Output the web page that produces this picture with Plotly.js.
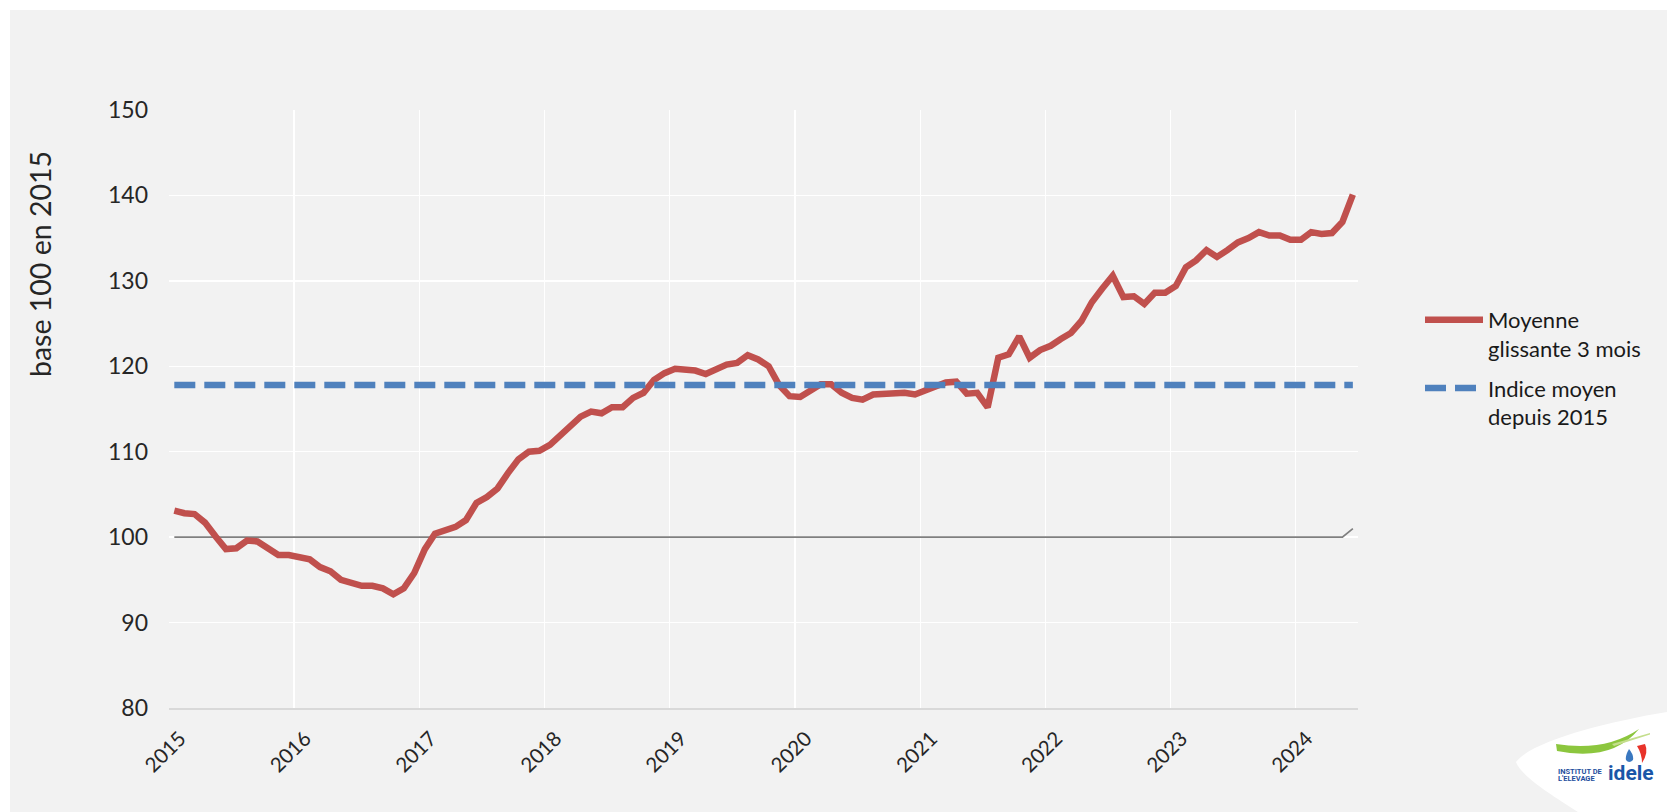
<!DOCTYPE html>
<html>
<head>
<meta charset="utf-8">
<script src="https://cdn.plot.ly/plotly-3.0.1.min.js"></script>
<style>
  html, body { margin: 0; padding: 0; background: #ffffff; }
  #chart { width: 1667px; height: 812px; }
</style>
</head>
<body>
<div id="chart"></div>
<script>
// ---- DATA ----
const months = [
  "2015-01","2015-02","2015-03","2015-04","2015-05","2015-06","2015-07","2015-08","2015-09","2015-10","2015-11","2015-12",
  "2016-01","2016-02","2016-03","2016-04","2016-05","2016-06","2016-07","2016-08","2016-09","2016-10","2016-11","2016-12",
  "2017-01","2017-02","2017-03","2017-04","2017-05","2017-06","2017-07","2017-08","2017-09","2017-10","2017-11","2017-12",
  "2018-01","2018-02","2018-03","2018-04","2018-05","2018-06","2018-07","2018-08","2018-09","2018-10","2018-11","2018-12",
  "2019-01","2019-02","2019-03","2019-04","2019-05","2019-06","2019-07","2019-08","2019-09","2019-10","2019-11","2019-12",
  "2020-01","2020-02","2020-03","2020-04","2020-05","2020-06","2020-07","2020-08","2020-09","2020-10","2020-11","2020-12",
  "2021-01","2021-02","2021-03","2021-04","2021-05","2021-06","2021-07","2021-08","2021-09","2021-10","2021-11","2021-12",
  "2022-01","2022-02","2022-03","2022-04","2022-05","2022-06","2022-07","2022-08","2022-09","2022-10","2022-11","2022-12",
  "2023-01","2023-02","2023-03","2023-04","2023-05","2023-06","2023-07","2023-08","2023-09","2023-10","2023-11","2023-12",
  "2024-01","2024-02","2024-03","2024-04","2024-05","2024-06"
];

const moyenneGlissante3Mois = [
  103.1, 102.8, 102.7, 101.7, 100.1, 98.6, 98.7, 99.6, 99.5, 98.8, 97.9, 97.9,
  97.7, 97.4, 96.5, 96.0, 95.0, 94.7, 94.3, 94.3, 94.0, 93.3, 94.0, 95.8,
  98.6, 100.4, 100.7, 101.2, 102.0, 104.0, 104.7, 105.7, 107.5, 109.1, 110.0, 110.1,
  110.8, 111.9, 113.0, 114.1, 114.7, 114.5, 115.2, 115.2, 116.3, 116.9, 118.4, 119.2,
  119.7, 119.6, 119.5, 119.1, 119.7, 120.2, 120.4, 121.3, 120.8, 120.0, 117.8, 116.5,
  116.4, 117.1, 117.9, 117.9, 116.9, 116.3, 116.1, 116.7, 116.8, 116.8, 116.9, 116.7,
  117.2, 117.6, 118.1, 118.2, 116.8, 116.9, 115.2, 121.0, 121.4, 123.5, 121.0, 121.9,
  122.4, 123.2, 123.9, 125.3, 127.5, 129.1, 130.6, 128.1, 128.2, 127.3, 128.6, 128.6,
  129.4, 131.6, 132.4, 133.6, 132.8, 133.6, 134.5, 135.0, 135.7, 135.3, 135.3, 134.8,
  134.8, 135.7, 135.5, 135.6, 136.9, 140.1
];

const indiceMoyenDepuis2015 = [
  117.8, 117.8, 117.8, 117.8, 117.8, 117.8, 117.8, 117.8, 117.8, 117.8, 117.8, 117.8,
  117.8, 117.8, 117.8, 117.8, 117.8, 117.8, 117.8, 117.8, 117.8, 117.8, 117.8, 117.8,
  117.8, 117.8, 117.8, 117.8, 117.8, 117.8, 117.8, 117.8, 117.8, 117.8, 117.8, 117.8,
  117.8, 117.8, 117.8, 117.8, 117.8, 117.8, 117.8, 117.8, 117.8, 117.8, 117.8, 117.8,
  117.8, 117.8, 117.8, 117.8, 117.8, 117.8, 117.8, 117.8, 117.8, 117.8, 117.8, 117.8,
  117.8, 117.8, 117.8, 117.8, 117.8, 117.8, 117.8, 117.8, 117.8, 117.8, 117.8, 117.8,
  117.8, 117.8, 117.8, 117.8, 117.8, 117.8, 117.8, 117.8, 117.8, 117.8, 117.8, 117.8,
  117.8, 117.8, 117.8, 117.8, 117.8, 117.8, 117.8, 117.8, 117.8, 117.8, 117.8, 117.8,
  117.8, 117.8, 117.8, 117.8, 117.8, 117.8, 117.8, 117.8, 117.8, 117.8, 117.8, 117.8,
  117.8, 117.8, 117.8, 117.8, 117.8, 117.8
];

const base100 = [
  100, 100, 100, 100, 100, 100, 100, 100, 100, 100, 100, 100,
  100, 100, 100, 100, 100, 100, 100, 100, 100, 100, 100, 100,
  100, 100, 100, 100, 100, 100, 100, 100, 100, 100, 100, 100,
  100, 100, 100, 100, 100, 100, 100, 100, 100, 100, 100, 100,
  100, 100, 100, 100, 100, 100, 100, 100, 100, 100, 100, 100,
  100, 100, 100, 100, 100, 100, 100, 100, 100, 100, 100, 100,
  100, 100, 100, 100, 100, 100, 100, 100, 100, 100, 100, 100,
  100, 100, 100, 100, 100, 100, 100, 100, 100, 100, 100, 100,
  100, 100, 100, 100, 100, 100, 100, 100, 100, 100, 100, 100,
  100, 100, 100, 100, 100, 101
];

const yearTickVals = ["2015-01-01","2016-01-01","2017-01-01","2018-01-01","2019-01-01","2020-01-01","2021-01-01","2022-01-01","2023-01-01","2024-01-01"];
const yearTickText = ["2015","2016","2017","2018","2019","2020","2021","2022","2023","2024"];

const seriesNames = ["Moyenne<br>glissante 3 mois", "Indice moyen<br>depuis 2015"];
const yAxisTitle = "base 100 en 2015";

// ---- LAYOUT GEOMETRY (pixels) ----
const W = 1667, H = 812;
const M = { l: 169, r: 309, t: 110, b: 104 };
const PW = W - M.l - M.r, PH = H - M.t - M.b;
const px = x => (x - M.l) / PW;          // pixel x -> paper
const py = y => (H - M.b - y) / PH;      // pixel y -> paper
const FONT = "Lato, 'Open Sans', sans-serif";

const common = { xperiod: "M1", xperiodalignment: "middle", mode: "lines", hoverinfo: "skip" };

const traces = [
  Object.assign({}, common, {
    x: months, y: base100, showlegend: false, legendgroup: "g0",
    line: { color: "#7f7f7f", width: 1.75 }
  }),
  Object.assign({}, common, {
    x: months, y: moyenneGlissante3Mois, name: seriesNames[0], legendgroup: "g1",
    line: { color: "#C0504D", width: 6.5, shape: "linear" }
  }),
  Object.assign({}, common, {
    x: months, y: indiceMoyenDepuis2015, name: seriesNames[1], legendgroup: "g2",
    line: { color: "#4F81BD", width: 6.5, dash: "21px,9px" }
  })
];

// logo path helper (pixel coords -> paper)
function pathPx(cmds) {
  return cmds.map(c => {
    if (typeof c === "string") return c;
    return px(c[0]).toFixed(5) + "," + py(c[1]).toFixed(5);
  }).join(" ");
}

const shapes = [
  // grey background with thin white frame at top/left
  { type: "rect", xref: "paper", yref: "paper", layer: "below",
    x0: px(10), x1: px(W), y0: py(10), y1: py(H),
    fillcolor: "#f2f2f2", line: { width: 0 } },
  // white logo leaf
  { type: "path", xref: "paper", yref: "paper", layer: "above",
    path: pathPx(["M", [1516, 762], "C", [1530, 742], [1605, 722], [1667, 712], "L", [1667, 812], "L", [1578, 812], "C", [1560, 800], [1522, 778], [1516, 762], "Z"]),
    fillcolor: "#ffffff", line: { width: 0 } },
  // green swoosh
  { type: "path", xref: "paper", yref: "paper", layer: "above",
    path: pathPx(["M", [1556, 744], "Q", [1605, 752], [1639, 729], "Q", [1612, 762], [1557, 751], "Z"]),
    fillcolor: "#8cc63e", line: { width: 0 } },
  { type: "path", xref: "paper", yref: "paper", layer: "above",
    path: pathPx(["M", [1612, 744], "L", [1650, 733], "L", [1650, 734.5], "L", [1614, 746], "Z"]),
    fillcolor: "#c4de8c", line: { width: 0 } },
  // red & blue drop icon
  { type: "path", xref: "paper", yref: "paper", layer: "above",
    path: pathPx(["M", [1637, 746], "L", [1645, 744], "Q", [1649, 752], [1642, 763], "Q", [1642, 754], [1637, 746], "Z"]),
    fillcolor: "#e8332a", line: { width: 0 } },
  { type: "path", xref: "paper", yref: "paper", layer: "above",
    path: pathPx(["M", [1629, 749], "Q", [1625, 756], [1626, 760], "Q", [1629, 764], [1633, 760], "Q", [1634, 755], [1629, 749], "Z"]),
    fillcolor: "#3a78c0", line: { width: 0 } }
];

const annotations = [
  { xref: "paper", yref: "paper", x: px(40), y: py(264), xanchor: "center", yanchor: "middle",
    textangle: -90, text: yAxisTitle, showarrow: false,
    font: { family: FONT, size: 28.5, color: "#262626" } },
  { xref: "paper", yref: "paper", x: px(1556), y: py(771), xanchor: "left", yanchor: "middle",
    text: "<b>INSTITUT DE</b>", showarrow: false, font: { family: "Roboto, sans-serif", size: 7.5, color: "#1f4f9e" } },
  { xref: "paper", yref: "paper", x: px(1556), y: py(778.5), xanchor: "left", yanchor: "middle",
    text: "<b>L'ELEVAGE</b>", showarrow: false, font: { family: "Roboto, sans-serif", size: 7.5, color: "#1f4f9e" } },
  { xref: "paper", yref: "paper", x: px(1606), y: py(773), xanchor: "left", yanchor: "middle",
    text: "<b>idele</b>", showarrow: false, font: { family: "Roboto, sans-serif", size: 21, color: "#1a56a8" } }
];

const layout = {
  width: W, height: H,
  margin: M,
  paper_bgcolor: "#ffffff",
  plot_bgcolor: "#f2f2f2",
  font: { family: FONT, color: "#262626" },
  showlegend: true,
  legend: {
    x: px(1420), y: py(299), xanchor: "left", yanchor: "top",
    bgcolor: "rgba(0,0,0,0)", borderwidth: 0,
    font: { family: FONT, size: 22, color: "#1a1a1a" },
    valign: "top", itemwidth: 58, traceorder: "grouped", tracegroupgap: 8
  },
  xaxis: {
    type: "date",
    range: ["2015-01-01", "2024-07-01"],
    tickmode: "array", tickvals: yearTickVals, ticktext: yearTickText,
    tickangle: -45,
    tickfont: { family: FONT, size: 20.5, color: "#262626" },
    ticklabelshift: 11, ticklabelstandoff: 9,
    showgrid: true, gridcolor: "#ffffff", gridwidth: 1.3,
    showline: true, linecolor: "#d9d9d9", linewidth: 1.5,
    ticks: "", zeroline: false, fixedrange: true
  },
  yaxis: {
    range: [80, 150], dtick: 10, tick0: 80,
    tickfont: { family: FONT, size: 23, color: "#262626" },
    showgrid: true, gridcolor: "#ffffff", gridwidth: 1.3,
    showline: false, zeroline: false, ticks: "",
    ticklabelstandoff: 20,
    fixedrange: true
  },
  shapes: shapes,
  annotations: annotations
};

Plotly.newPlot("chart", traces, layout, { displayModeBar: false, staticPlot: true });
</script>
</body>
</html>
